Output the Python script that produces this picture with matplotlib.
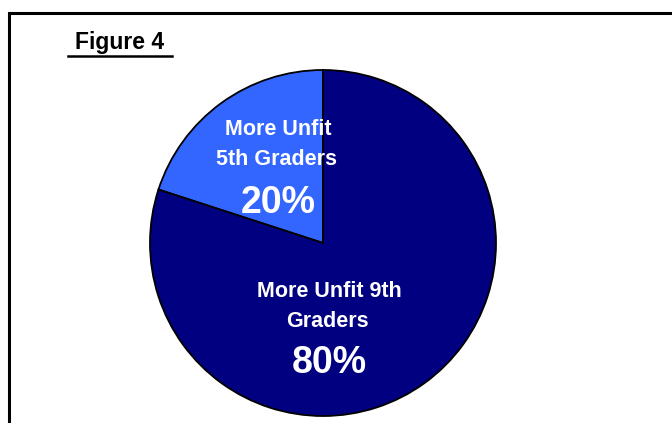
import matplotlib
matplotlib.use("Agg")
import matplotlib.pyplot as plt
from matplotlib import patches

# Share of more-unfit students by grade
labels = ["More Unfit\n5th Graders", "More Unfit 9th\nGraders"]
shares = [20, 80]
colors = ["#3366ff", "#000080"]

plt.rcParams["font.family"] = ["Liberation Sans", "DejaVu Sans"]

fig = plt.figure(figsize=(6.72, 4.23), dpi=100)
ax = fig.add_axes([0, 0, 1, 1])

# frame around the chart area, running off the right and bottom edges
frame = patches.Rectangle((9, -20), 700, 430, linewidth=2.2,
                          edgecolor="black", facecolor="none", clip_on=False)
ax.add_patch(frame)

wedges, _ = ax.pie(shares, colors=colors, startangle=90, counterclock=True,
                   center=(323, 180), radius=173, frame=True,
                   wedgeprops=dict(edgecolor="black", linewidth=1.3))
ax.set_xlim(0, 672)
ax.set_ylim(0, 423)
ax.set_aspect("equal")
ax.axis("off")

ax.text(120, 374, "Figure 4", fontsize=16.5, fontweight="bold", ha="center",
        va="baseline")
ax.plot([68, 172], [367, 367], color="black", linewidth=1.8)

# label lines (x centre, baseline) for each slice, then the percentage
label_pos = [[(278, 288), (276, 258)], [(329, 126), (327, 96)]]
pct_pos = [(278, 210), (329, 50)]
for text, lines, (px, py), share in zip(labels, label_pos, pct_pos, shares):
    for line, (lx, ly) in zip(text.split("\n"), lines):
        ax.text(lx, ly, line, fontsize=15.5, fontweight="bold", color="white",
                ha="center", va="baseline")
    ax.text(px, py, f"{share}%", fontsize=27, fontweight="bold",
            color="white", ha="center", va="baseline")

fig.savefig("out.png", dpi=100)
